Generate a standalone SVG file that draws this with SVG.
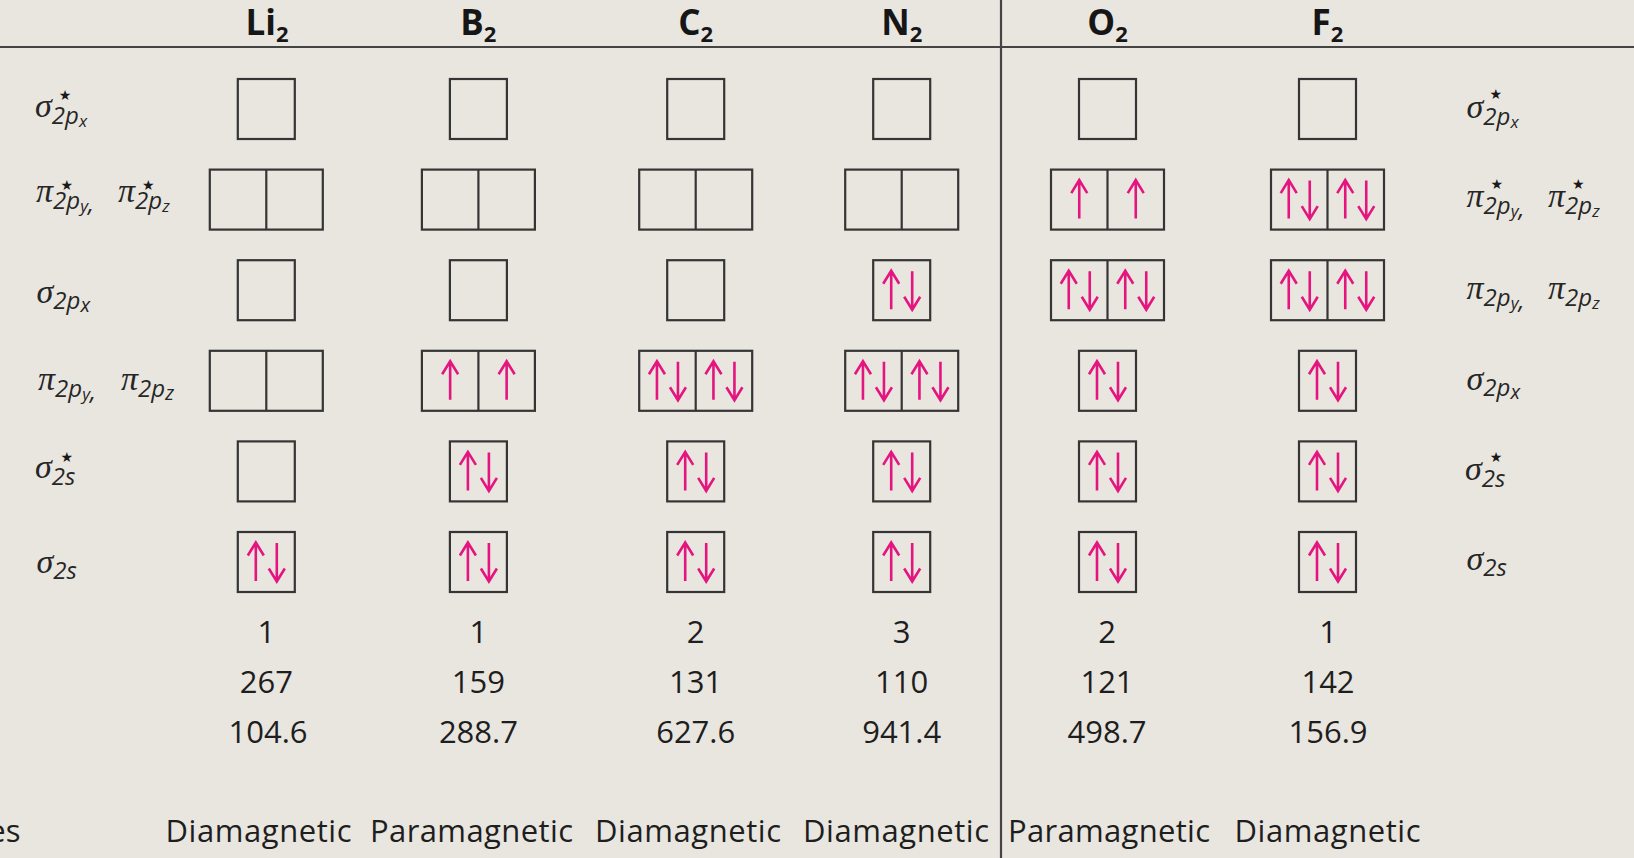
<svg xmlns="http://www.w3.org/2000/svg" xmlns:xlink="http://www.w3.org/1999/xlink" width="1634" height="858" viewBox="0 0 1634 858">
<style>
.bx{fill:none;stroke:#353535;stroke-width:2.2}
.rule{stroke:#444;stroke-width:2.2}
.hd{font-family:"Open Sans","Noto Sans",sans-serif;font-weight:bold;font-size:35px;fill:#161616;text-anchor:middle}
.hs{font-size:22px}
.num{font-family:"Open Sans","Noto Sans",sans-serif;font-size:31px;fill:#1e1e1e;text-anchor:middle}
.mag{font-family:"Open Sans","Noto Sans",sans-serif;font-size:31px;fill:#1e1e1e}
.lb{fill:#262626}
.g{font-family:"Liberation Serif",serif;font-style:italic;font-size:34px}
.sb{font-family:"Open Sans","Noto Sans",sans-serif;font-style:italic;font-size:24px}
.ss{font-family:"Open Sans","Noto Sans",sans-serif;font-style:italic;font-size:17px}
.sx{font-size:20px}
.st{font-family:"DejaVu Sans",sans-serif;font-size:14px;fill:#1a1a1a;text-anchor:middle}
</style>
<defs>
<path id="up" d="M0,19 V-19 M-8,-6.5 L0,-19.5 L8,-6.5" fill="none" stroke="#e5157f" stroke-width="2.6" stroke-linejoin="miter"/>
<path id="dn" d="M0,-19 V19 M-8,6.5 L0,19.5 L8,6.5" fill="none" stroke="#e5157f" stroke-width="2.6" stroke-linejoin="miter"/>
<g id="pr"><use href="#up" x="-10.5"/><use href="#dn" x="10.5"/></g>
<rect id="sbx" class="bx" x="-28.5" y="-30" width="57" height="60"/>
<g id="dbx"><rect class="bx" x="-56.5" y="-30" width="113" height="60"/><line class="bx" x1="0" y1="-30" x2="0" y2="30"/></g>
</defs>
<rect x="0" y="0" width="1634" height="858" fill="#e9e6e0"/>

<g id="rules">
<line class="rule" x1="0" y1="47" x2="1634" y2="47"/>
<line class="rule" x1="1001" y1="0" x2="1001" y2="858"/>
</g>

<g id="headers">
<text class="hd" x="267" y="35">Li<tspan class="hs" dy="7">2</tspan></text>
<text class="hd" x="478.4" y="35">B<tspan class="hs" dy="7">2</tspan></text>
<text class="hd" x="695.7" y="35">C<tspan class="hs" dy="7">2</tspan></text>
<text class="hd" x="901.7" y="35">N<tspan class="hs" dy="7">2</tspan></text>
<text class="hd" x="1107.5" y="35">O<tspan class="hs" dy="7">2</tspan></text>
<text class="hd" x="1327.5" y="35">F<tspan class="hs" dy="7">2</tspan></text>
</g>

<g id="labels-left" class="lb">
<text x="35" y="117"><tspan class="g">σ</tspan><tspan class="sb" dy="7">2p</tspan><tspan class="ss" dy="3">x</tspan></text>
<text class="st" x="65" y="100">★</text>
<text x="36" y="202"><tspan class="g">π</tspan><tspan class="sb" dy="7">2p</tspan><tspan class="ss" dy="3">y</tspan><tspan class="sb">,</tspan><tspan class="g" x="118" dy="-10">π</tspan><tspan class="sb" dy="7">2p</tspan><tspan class="ss" dy="3">z</tspan></text>
<text class="st" x="66.7" y="190">★</text>
<text class="st" x="148.3" y="190">★</text>
<text x="36.5" y="303"><tspan class="g">σ</tspan><tspan class="sb" dy="6">2p</tspan><tspan class="ss sx" dy="3">x</tspan></text>
<text x="38" y="390"><tspan class="g">π</tspan><tspan class="sb" dy="7">2p</tspan><tspan class="ss" dy="3">y</tspan><tspan class="sb">,</tspan><tspan class="g" x="121" dy="-10">π</tspan><tspan class="sb" dy="7">2p</tspan><tspan class="ss sx" dy="3">z</tspan></text>
<text x="35" y="478"><tspan class="g">σ</tspan><tspan class="sb" dy="7">2s</tspan></text>
<text class="st" x="66.7" y="461.5">★</text>
<text x="36.5" y="573"><tspan class="g">σ</tspan><tspan class="sb" dy="6">2s</tspan></text>
</g>

<g id="labels-right" class="lb">
<text x="1466.5" y="118"><tspan class="g">σ</tspan><tspan class="sb" dy="7">2p</tspan><tspan class="ss" dy="3">x</tspan></text>
<text class="st" x="1495.7" y="99">★</text>
<text x="1466.5" y="207"><tspan class="g">π</tspan><tspan class="sb" dy="7">2p</tspan><tspan class="ss" dy="3">y</tspan><tspan class="sb">,</tspan><tspan class="g" x="1548" dy="-10">π</tspan><tspan class="sb" dy="7">2p</tspan><tspan class="ss" dy="3">z</tspan></text>
<text class="st" x="1496.7" y="189">★</text>
<text class="st" x="1578.3" y="189">★</text>
<text x="1466.5" y="299"><tspan class="g">π</tspan><tspan class="sb" dy="7">2p</tspan><tspan class="ss" dy="3">y</tspan><tspan class="sb">,</tspan><tspan class="g" x="1548" dy="-10">π</tspan><tspan class="sb" dy="7">2p</tspan><tspan class="ss" dy="3">z</tspan></text>
<text x="1466.5" y="390"><tspan class="g">σ</tspan><tspan class="sb" dy="6">2p</tspan><tspan class="ss sx" dy="3">x</tspan></text>
<text x="1465" y="480"><tspan class="g">σ</tspan><tspan class="sb" dy="7">2s</tspan></text>
<text class="st" x="1496" y="462">★</text>
<text x="1466.5" y="570"><tspan class="g">σ</tspan><tspan class="sb" dy="6">2s</tspan></text>
</g>

<g id="col-Li2" transform="translate(266.3,0)">
<use href="#sbx" y="109"/>
<use href="#dbx" y="199.6"/>
<use href="#sbx" y="290.2"/>
<use href="#dbx" y="380.8"/>
<use href="#sbx" y="471.4"/>
<use href="#sbx" y="562"/><use href="#pr" y="562"/>
</g>

<g id="col-B2" transform="translate(478.4,0)">
<use href="#sbx" y="109"/>
<use href="#dbx" y="199.6"/>
<use href="#sbx" y="290.2"/>
<use href="#dbx" y="380.8"/><use href="#up" x="-28.25" y="380.8"/><use href="#up" x="28.25" y="380.8"/>
<use href="#sbx" y="471.4"/><use href="#pr" y="471.4"/>
<use href="#sbx" y="562"/><use href="#pr" y="562"/>
</g>

<g id="col-C2" transform="translate(695.7,0)">
<use href="#sbx" y="109"/>
<use href="#dbx" y="199.6"/>
<use href="#sbx" y="290.2"/>
<use href="#dbx" y="380.8"/><use href="#pr" x="-28.25" y="380.8"/><use href="#pr" x="28.25" y="380.8"/>
<use href="#sbx" y="471.4"/><use href="#pr" y="471.4"/>
<use href="#sbx" y="562"/><use href="#pr" y="562"/>
</g>

<g id="col-N2" transform="translate(901.7,0)">
<use href="#sbx" y="109"/>
<use href="#dbx" y="199.6"/>
<use href="#sbx" y="290.2"/><use href="#pr" y="290.2"/>
<use href="#dbx" y="380.8"/><use href="#pr" x="-28.25" y="380.8"/><use href="#pr" x="28.25" y="380.8"/>
<use href="#sbx" y="471.4"/><use href="#pr" y="471.4"/>
<use href="#sbx" y="562"/><use href="#pr" y="562"/>
</g>

<g id="col-O2" transform="translate(1107.5,0)">
<use href="#sbx" y="109"/>
<use href="#dbx" y="199.6"/><use href="#up" x="-28.25" y="199.6"/><use href="#up" x="28.25" y="199.6"/>
<use href="#dbx" y="290.2"/><use href="#pr" x="-28.25" y="290.2"/><use href="#pr" x="28.25" y="290.2"/>
<use href="#sbx" y="380.8"/><use href="#pr" y="380.8"/>
<use href="#sbx" y="471.4"/><use href="#pr" y="471.4"/>
<use href="#sbx" y="562"/><use href="#pr" y="562"/>
</g>

<g id="col-F2" transform="translate(1327.5,0)">
<use href="#sbx" y="109"/>
<use href="#dbx" y="199.6"/><use href="#pr" x="-28.25" y="199.6"/><use href="#pr" x="28.25" y="199.6"/>
<use href="#dbx" y="290.2"/><use href="#pr" x="-28.25" y="290.2"/><use href="#pr" x="28.25" y="290.2"/>
<use href="#sbx" y="380.8"/><use href="#pr" y="380.8"/>
<use href="#sbx" y="471.4"/><use href="#pr" y="471.4"/>
<use href="#sbx" y="562"/><use href="#pr" y="562"/>
</g>

<g id="values">
<text class="num" x="266.3" y="643">1</text>
<text class="num" x="478.4" y="643">1</text>
<text class="num" x="695.7" y="643">2</text>
<text class="num" x="901.7" y="643">3</text>
<text class="num" x="1107" y="643">2</text>
<text class="num" x="1328" y="643">1</text>
<text class="num" x="266.3" y="693">267</text>
<text class="num" x="478.4" y="693">159</text>
<text class="num" x="695.7" y="693">131</text>
<text class="num" x="901.7" y="693">110</text>
<text class="num" x="1107" y="693">121</text>
<text class="num" x="1328" y="693">142</text>
<text class="num" x="268" y="743">104.6</text>
<text class="num" x="478.4" y="743">288.7</text>
<text class="num" x="695.7" y="743">627.6</text>
<text class="num" x="901.7" y="743">941.4</text>
<text class="num" x="1107" y="743">498.7</text>
<text class="num" x="1328" y="743">156.9</text>
</g>

<g id="magnetism">
<text class="mag" x="20.5" y="842" text-anchor="end">es</text>
<text class="mag" x="165.5" y="842" textLength="186" lengthAdjust="spacing">Diamagnetic</text>
<text class="mag" x="370" y="842" textLength="203" lengthAdjust="spacing">Paramagnetic</text>
<text class="mag" x="595" y="842" textLength="186" lengthAdjust="spacing">Diamagnetic</text>
<text class="mag" x="803" y="842" textLength="186" lengthAdjust="spacing">Diamagnetic</text>
<text class="mag" x="1008" y="842" textLength="202" lengthAdjust="spacing">Paramagnetic</text>
<text class="mag" x="1234.5" y="842" textLength="186" lengthAdjust="spacing">Diamagnetic</text>
</g>
</svg>
